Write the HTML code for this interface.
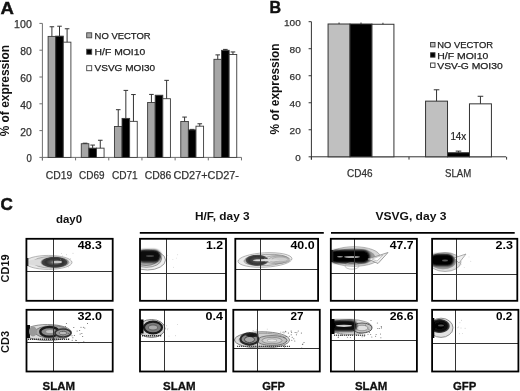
<!DOCTYPE html>
<html><head><meta charset="utf-8"><style>
html,body{margin:0;padding:0;background:#fff;width:520px;height:391px;overflow:hidden}
svg{display:block;font-family:"Liberation Sans", sans-serif;will-change:transform}
</style></head><body>
<svg width="520" height="391" viewBox="0 0 520 391">
<defs><filter id="bl2" x="-30%" y="-50%" width="160%" height="200%"><feGaussianBlur stdDeviation="1.1"/></filter><filter id="bl" x="-20%" y="-20%" width="140%" height="140%"><feGaussianBlur stdDeviation="0.55"/></filter></defs>
<rect width="520" height="391" fill="#fff"/>
<text x="0.6" y="14.2" font-size="16.2" font-weight="bold" text-anchor="start" fill="#111" textLength="13.4" lengthAdjust="spacingAndGlyphs" stroke="#111" stroke-width="0.4">A</text><line x1="42.4" y1="23.400000000000006" x2="42.4" y2="160.4" stroke="#707070" stroke-width="1"/><line x1="42.4" y1="157.4" x2="241.5" y2="157.4" stroke="#707070" stroke-width="1"/><line x1="39.4" y1="157.4" x2="42.4" y2="157.4" stroke="#707070" stroke-width="1"/><text x="31.8" y="162.3" font-size="10" font-weight="normal" text-anchor="end" fill="#333" textLength="5.3" lengthAdjust="spacingAndGlyphs" stroke="#333" stroke-width="0.25">0</text><line x1="39.4" y1="130.6" x2="42.4" y2="130.6" stroke="#707070" stroke-width="1"/><text x="31.8" y="135.5" font-size="10" font-weight="normal" text-anchor="end" fill="#333" textLength="11.5" lengthAdjust="spacingAndGlyphs" stroke="#333" stroke-width="0.25">20</text><line x1="39.4" y1="103.80000000000001" x2="42.4" y2="103.80000000000001" stroke="#707070" stroke-width="1"/><text x="31.8" y="108.70000000000002" font-size="10" font-weight="normal" text-anchor="end" fill="#333" textLength="11.5" lengthAdjust="spacingAndGlyphs" stroke="#333" stroke-width="0.25">40</text><line x1="39.4" y1="77.0" x2="42.4" y2="77.0" stroke="#707070" stroke-width="1"/><text x="31.8" y="81.9" font-size="10" font-weight="normal" text-anchor="end" fill="#333" textLength="11.5" lengthAdjust="spacingAndGlyphs" stroke="#333" stroke-width="0.25">60</text><line x1="39.4" y1="50.2" x2="42.4" y2="50.2" stroke="#707070" stroke-width="1"/><text x="31.8" y="55.1" font-size="10" font-weight="normal" text-anchor="end" fill="#333" textLength="11.5" lengthAdjust="spacingAndGlyphs" stroke="#333" stroke-width="0.25">80</text><line x1="39.4" y1="23.400000000000006" x2="42.4" y2="23.400000000000006" stroke="#707070" stroke-width="1"/><text x="31.8" y="28.300000000000004" font-size="10" font-weight="normal" text-anchor="end" fill="#333" textLength="17.7" lengthAdjust="spacingAndGlyphs" stroke="#333" stroke-width="0.25">100</text><line x1="42.4" y1="157.4" x2="42.4" y2="160.4" stroke="#707070" stroke-width="1"/><line x1="75.58" y1="157.4" x2="75.58" y2="160.4" stroke="#707070" stroke-width="1"/><line x1="108.75999999999999" y1="157.4" x2="108.75999999999999" y2="160.4" stroke="#707070" stroke-width="1"/><line x1="141.94" y1="157.4" x2="141.94" y2="160.4" stroke="#707070" stroke-width="1"/><line x1="175.12" y1="157.4" x2="175.12" y2="160.4" stroke="#707070" stroke-width="1"/><line x1="208.3" y1="157.4" x2="208.3" y2="160.4" stroke="#707070" stroke-width="1"/><line x1="241.48" y1="157.4" x2="241.48" y2="160.4" stroke="#707070" stroke-width="1"/><rect x="48.10" y="36.40" width="7.6" height="121.00" fill="#a6a6a6" stroke="#3a3a3a" stroke-width="0.9"/><line x1="51.90" y1="36.40" x2="51.90" y2="26.75" stroke="#333" stroke-width="1"/><line x1="49.60" y1="26.75" x2="54.20" y2="26.75" stroke="#333" stroke-width="1"/><rect x="55.70" y="36.13" width="7.6" height="121.27" fill="#000000" stroke="#3a3a3a" stroke-width="0.9"/><line x1="59.50" y1="36.13" x2="59.50" y2="26.21" stroke="#333" stroke-width="1"/><line x1="57.20" y1="26.21" x2="61.80" y2="26.21" stroke="#333" stroke-width="1"/><rect x="63.30" y="42.16" width="7.6" height="115.24" fill="#ffffff" stroke="#3a3a3a" stroke-width="0.9"/><line x1="67.10" y1="42.16" x2="67.10" y2="28.76" stroke="#333" stroke-width="1"/><line x1="64.80" y1="28.76" x2="69.40" y2="28.76" stroke="#333" stroke-width="1"/><rect x="81.27" y="143.73" width="7.6" height="13.67" fill="#a6a6a6" stroke="#3a3a3a" stroke-width="0.9"/><line x1="85.07" y1="143.73" x2="85.07" y2="143.20" stroke="#333" stroke-width="1"/><line x1="82.77" y1="143.20" x2="87.37" y2="143.20" stroke="#333" stroke-width="1"/><rect x="88.87" y="148.15" width="7.6" height="9.25" fill="#000000" stroke="#3a3a3a" stroke-width="0.9"/><line x1="92.67" y1="148.15" x2="92.67" y2="145.07" stroke="#333" stroke-width="1"/><line x1="90.37" y1="145.07" x2="94.97" y2="145.07" stroke="#333" stroke-width="1"/><rect x="96.47" y="148.15" width="7.6" height="9.25" fill="#ffffff" stroke="#3a3a3a" stroke-width="0.9"/><line x1="100.27" y1="148.15" x2="100.27" y2="140.25" stroke="#333" stroke-width="1"/><line x1="97.97" y1="140.25" x2="102.57" y2="140.25" stroke="#333" stroke-width="1"/><rect x="114.44" y="126.45" width="7.6" height="30.95" fill="#a6a6a6" stroke="#3a3a3a" stroke-width="0.9"/><line x1="118.24" y1="126.45" x2="118.24" y2="109.70" stroke="#333" stroke-width="1"/><line x1="115.94" y1="109.70" x2="120.54" y2="109.70" stroke="#333" stroke-width="1"/><rect x="122.04" y="118.41" width="7.6" height="38.99" fill="#000000" stroke="#3a3a3a" stroke-width="0.9"/><line x1="125.84" y1="118.41" x2="125.84" y2="90.40" stroke="#333" stroke-width="1"/><line x1="123.54" y1="90.40" x2="128.14" y2="90.40" stroke="#333" stroke-width="1"/><rect x="129.64" y="121.35" width="7.6" height="36.05" fill="#ffffff" stroke="#3a3a3a" stroke-width="0.9"/><line x1="133.44" y1="121.35" x2="133.44" y2="94.55" stroke="#333" stroke-width="1"/><line x1="131.14" y1="94.55" x2="135.74" y2="94.55" stroke="#333" stroke-width="1"/><rect x="147.61" y="102.46" width="7.6" height="54.94" fill="#a6a6a6" stroke="#3a3a3a" stroke-width="0.9"/><line x1="151.41" y1="102.46" x2="151.41" y2="94.42" stroke="#333" stroke-width="1"/><line x1="149.11" y1="94.42" x2="153.71" y2="94.42" stroke="#333" stroke-width="1"/><rect x="155.21" y="95.22" width="7.6" height="62.18" fill="#000000" stroke="#3a3a3a" stroke-width="0.9"/><rect x="162.81" y="98.71" width="7.6" height="58.69" fill="#ffffff" stroke="#3a3a3a" stroke-width="0.9"/><line x1="166.61" y1="98.71" x2="166.61" y2="80.35" stroke="#333" stroke-width="1"/><line x1="164.31" y1="80.35" x2="168.91" y2="80.35" stroke="#333" stroke-width="1"/><rect x="180.78" y="121.49" width="7.6" height="35.91" fill="#a6a6a6" stroke="#3a3a3a" stroke-width="0.9"/><line x1="184.58" y1="121.49" x2="184.58" y2="117.07" stroke="#333" stroke-width="1"/><line x1="182.28" y1="117.07" x2="186.88" y2="117.07" stroke="#333" stroke-width="1"/><rect x="188.38" y="129.93" width="7.6" height="27.47" fill="#000000" stroke="#3a3a3a" stroke-width="0.9"/><line x1="192.18" y1="129.93" x2="192.18" y2="129.39" stroke="#333" stroke-width="1"/><line x1="189.88" y1="129.39" x2="194.48" y2="129.39" stroke="#333" stroke-width="1"/><rect x="195.98" y="126.18" width="7.6" height="31.22" fill="#ffffff" stroke="#3a3a3a" stroke-width="0.9"/><line x1="199.78" y1="126.18" x2="199.78" y2="123.77" stroke="#333" stroke-width="1"/><line x1="197.48" y1="123.77" x2="202.08" y2="123.77" stroke="#333" stroke-width="1"/><rect x="213.95" y="59.31" width="7.6" height="98.09" fill="#a6a6a6" stroke="#3a3a3a" stroke-width="0.9"/><line x1="217.75" y1="59.31" x2="217.75" y2="54.89" stroke="#333" stroke-width="1"/><line x1="215.45" y1="54.89" x2="220.05" y2="54.89" stroke="#333" stroke-width="1"/><rect x="221.55" y="50.33" width="7.6" height="107.07" fill="#000000" stroke="#3a3a3a" stroke-width="0.9"/><line x1="225.35" y1="50.33" x2="225.35" y2="49.40" stroke="#333" stroke-width="1"/><line x1="223.05" y1="49.40" x2="227.65" y2="49.40" stroke="#333" stroke-width="1"/><rect x="229.15" y="54.49" width="7.6" height="102.91" fill="#ffffff" stroke="#3a3a3a" stroke-width="0.9"/><line x1="232.95" y1="54.49" x2="232.95" y2="51.94" stroke="#333" stroke-width="1"/><line x1="230.65" y1="51.94" x2="235.25" y2="51.94" stroke="#333" stroke-width="1"/><rect x="86.7" y="32.80" width="5" height="5" fill="#a6a6a6" stroke="#444" stroke-width="0.9"/><text x="94.6" y="38.5" font-size="9.6" font-weight="normal" text-anchor="start" fill="#222" textLength="56" lengthAdjust="spacingAndGlyphs" stroke="#222" stroke-width="0.25">NO VECTOR</text><rect x="86.7" y="49.25" width="5" height="5" fill="#000000" stroke="#444" stroke-width="0.9"/><text x="94.6" y="54.949999999999996" font-size="9.6" font-weight="normal" text-anchor="start" fill="#222" textLength="50.6" lengthAdjust="spacingAndGlyphs" stroke="#222" stroke-width="0.25">H/F MOI10</text><rect x="86.7" y="65.70" width="5" height="5" fill="#ffffff" stroke="#444" stroke-width="0.9"/><text x="94.6" y="71.39999999999999" font-size="9.6" font-weight="normal" text-anchor="start" fill="#222" textLength="60.6" lengthAdjust="spacingAndGlyphs" stroke="#222" stroke-width="0.25">VSVG MOI30</text><text x="45.7" y="178.7" font-size="10.7" font-weight="normal" text-anchor="start" fill="#333" textLength="26.5" lengthAdjust="spacingAndGlyphs" stroke="#333" stroke-width="0.25">CD19</text><text x="79.1" y="178.7" font-size="10.7" font-weight="normal" text-anchor="start" fill="#333" textLength="25.4" lengthAdjust="spacingAndGlyphs" stroke="#333" stroke-width="0.25">CD69</text><text x="111.9" y="178.7" font-size="10.7" font-weight="normal" text-anchor="start" fill="#333" textLength="25.8" lengthAdjust="spacingAndGlyphs" stroke="#333" stroke-width="0.25">CD71</text><text x="144.7" y="178.7" font-size="10.7" font-weight="normal" text-anchor="start" fill="#333" textLength="26.6" lengthAdjust="spacingAndGlyphs" stroke="#333" stroke-width="0.25">CD86</text><text x="173.4" y="178.7" font-size="10.7" font-weight="normal" text-anchor="start" fill="#333" textLength="65.6" lengthAdjust="spacingAndGlyphs" stroke="#333" stroke-width="0.25">CD27+CD27-</text><text transform="translate(9.1,90.6) rotate(-90)" x="0" y="0" font-size="12.5" font-weight="bold" text-anchor="middle" fill="#111" textLength="91.5" lengthAdjust="spacingAndGlyphs">% of expression</text><text x="269.4" y="12.9" font-size="15.6" font-weight="bold" text-anchor="start" fill="#111" textLength="11.6" lengthAdjust="spacingAndGlyphs" stroke="#111" stroke-width="0.4">B</text><line x1="311.4" y1="21.700000000000017" x2="311.4" y2="159.60000000000002" stroke="#333" stroke-width="1"/><line x1="311.4" y1="156.8" x2="506" y2="156.8" stroke="#333" stroke-width="1"/><line x1="308.59999999999997" y1="156.80" x2="311.4" y2="156.80" stroke="#333" stroke-width="1"/><text x="300.8" y="161.10000000000002" font-size="9.6" font-weight="normal" text-anchor="end" fill="#333" textLength="5.5" lengthAdjust="spacingAndGlyphs" stroke="#333" stroke-width="0.25">0</text><line x1="308.59999999999997" y1="129.78" x2="311.4" y2="129.78" stroke="#333" stroke-width="1"/><text x="300.8" y="134.08" font-size="9.6" font-weight="normal" text-anchor="end" fill="#333" textLength="11.2" lengthAdjust="spacingAndGlyphs" stroke="#333" stroke-width="0.25">20</text><line x1="308.59999999999997" y1="102.76" x2="311.4" y2="102.76" stroke="#333" stroke-width="1"/><text x="300.8" y="107.06000000000002" font-size="9.6" font-weight="normal" text-anchor="end" fill="#333" textLength="11.2" lengthAdjust="spacingAndGlyphs" stroke="#333" stroke-width="0.25">40</text><line x1="308.59999999999997" y1="75.74" x2="311.4" y2="75.74" stroke="#333" stroke-width="1"/><text x="300.8" y="80.04" font-size="9.6" font-weight="normal" text-anchor="end" fill="#333" textLength="11.2" lengthAdjust="spacingAndGlyphs" stroke="#333" stroke-width="0.25">60</text><line x1="308.59999999999997" y1="48.72" x2="311.4" y2="48.72" stroke="#333" stroke-width="1"/><text x="300.8" y="53.02000000000001" font-size="9.6" font-weight="normal" text-anchor="end" fill="#333" textLength="11.2" lengthAdjust="spacingAndGlyphs" stroke="#333" stroke-width="0.25">80</text><line x1="308.59999999999997" y1="21.70" x2="311.4" y2="21.70" stroke="#333" stroke-width="1"/><text x="300.8" y="26.000000000000018" font-size="9.6" font-weight="normal" text-anchor="end" fill="#333" textLength="16.8" lengthAdjust="spacingAndGlyphs" stroke="#333" stroke-width="0.25">100</text><line x1="311.40" y1="156.8" x2="311.40" y2="159.60000000000002" stroke="#333" stroke-width="1"/><line x1="409.00" y1="156.8" x2="409.00" y2="159.60000000000002" stroke="#333" stroke-width="1"/><line x1="506.60" y1="156.8" x2="506.60" y2="159.60000000000002" stroke="#333" stroke-width="1"/><rect x="328.07" y="24.00" width="21.95" height="132.80" fill="#c0c0c0" stroke="#333" stroke-width="1"/><line x1="339.05" y1="24.00" x2="339.05" y2="22.51" stroke="#333" stroke-width="1"/><rect x="350.02" y="24.00" width="21.95" height="132.80" fill="#000000" stroke="#333" stroke-width="1"/><line x1="361.00" y1="24.00" x2="361.00" y2="22.51" stroke="#333" stroke-width="1"/><rect x="371.97" y="24.27" width="21.95" height="132.53" fill="#ffffff" stroke="#333" stroke-width="1"/><line x1="382.95" y1="24.27" x2="382.95" y2="22.78" stroke="#333" stroke-width="1"/><rect x="425.57" y="101.14" width="21.95" height="55.66" fill="#c0c0c0" stroke="#333" stroke-width="1"/><line x1="436.55" y1="101.14" x2="436.55" y2="89.79" stroke="#333" stroke-width="1"/><line x1="433.75" y1="89.79" x2="439.35" y2="89.79" stroke="#333" stroke-width="1"/><rect x="447.52" y="152.75" width="21.95" height="4.05" fill="#000000" stroke="#333" stroke-width="1"/><line x1="458.50" y1="152.75" x2="458.50" y2="151.13" stroke="#333" stroke-width="1"/><line x1="455.70" y1="151.13" x2="461.30" y2="151.13" stroke="#333" stroke-width="1"/><rect x="469.47" y="103.84" width="21.95" height="52.96" fill="#ffffff" stroke="#333" stroke-width="1"/><line x1="480.45" y1="103.84" x2="480.45" y2="96.28" stroke="#333" stroke-width="1"/><line x1="477.65" y1="96.28" x2="483.25" y2="96.28" stroke="#333" stroke-width="1"/><rect x="430.6" y="42.50" width="4.4" height="4.4" fill="#c0c0c0" stroke="#333" stroke-width="0.9"/><text x="437.3" y="48.4" font-size="9.6" font-weight="normal" text-anchor="start" fill="#222" textLength="55.7" lengthAdjust="spacingAndGlyphs" stroke="#222" stroke-width="0.25">NO VECTOR</text><rect x="430.6" y="52.75" width="4.4" height="4.4" fill="#000000" stroke="#333" stroke-width="0.9"/><text x="437.3" y="58.65" font-size="9.6" font-weight="normal" text-anchor="start" fill="#222" textLength="51.0" lengthAdjust="spacingAndGlyphs" stroke="#222" stroke-width="0.25">H/F MOI10</text><rect x="430.6" y="63.00" width="4.4" height="4.4" fill="#ffffff" stroke="#333" stroke-width="0.9"/><text x="437.3" y="68.9" font-size="9.6" font-weight="normal" text-anchor="start" fill="#222" textLength="65.4" lengthAdjust="spacingAndGlyphs" stroke="#222" stroke-width="0.25">VSV-G MOI30</text><text x="347" y="177.2" font-size="10.2" font-weight="normal" text-anchor="start" fill="#333" textLength="25.5" lengthAdjust="spacingAndGlyphs" stroke="#333" stroke-width="0.25">CD46</text><text x="445" y="177.2" font-size="10.2" font-weight="normal" text-anchor="start" fill="#333" textLength="26.2" lengthAdjust="spacingAndGlyphs" stroke="#333" stroke-width="0.25">SLAM</text><text x="450.4" y="139.8" font-size="10.5" font-weight="normal" text-anchor="start" fill="#222" textLength="15.9" lengthAdjust="spacingAndGlyphs" stroke="#222" stroke-width="0.2">14x</text><text transform="translate(278.5,89) rotate(-90)" x="0" y="0" font-size="12.5" font-weight="bold" text-anchor="middle" fill="#111" textLength="91" lengthAdjust="spacingAndGlyphs">% of expression</text><text x="0.4" y="210.2" font-size="16.3" font-weight="bold" text-anchor="start" fill="#111" textLength="12.3" lengthAdjust="spacingAndGlyphs" stroke="#111" stroke-width="0.5">C</text><text x="56" y="223.2" font-size="11.5" font-weight="bold" text-anchor="start" fill="#111" textLength="26.1" lengthAdjust="spacingAndGlyphs">day0</text><text x="195" y="220" font-size="11.5" font-weight="bold" text-anchor="start" fill="#111" textLength="54.6" lengthAdjust="spacingAndGlyphs">H/F, day 3</text><text x="375.4" y="219.8" font-size="11.5" font-weight="bold" text-anchor="start" fill="#111" textLength="71.1" lengthAdjust="spacingAndGlyphs">VSVG, day 3</text><line x1="139.8" y1="232.8" x2="323.8" y2="232.8" stroke="#000" stroke-width="1.7"/><line x1="331" y1="232.8" x2="514.7" y2="232.8" stroke="#000" stroke-width="1.7"/><text transform="translate(8.7,268.4) rotate(-90)" font-size="11" font-weight="bold" text-anchor="middle" fill="#111" textLength="28" lengthAdjust="spacingAndGlyphs">CD19</text><text transform="translate(9.0,342.0) rotate(-90)" font-size="11" font-weight="bold" text-anchor="middle" fill="#111" textLength="22" lengthAdjust="spacingAndGlyphs">CD3</text><text x="42.6" y="389.5" font-size="11.5" font-weight="bold" text-anchor="start" fill="#111" textLength="32.4" lengthAdjust="spacingAndGlyphs" stroke="#111" stroke-width="0.3">SLAM</text><text x="163" y="389.5" font-size="11.5" font-weight="bold" text-anchor="start" fill="#111" textLength="32.6" lengthAdjust="spacingAndGlyphs" stroke="#111" stroke-width="0.3">SLAM</text><text x="262.2" y="389.5" font-size="11.5" font-weight="bold" text-anchor="start" fill="#111" textLength="22.8" lengthAdjust="spacingAndGlyphs" stroke="#111" stroke-width="0.3">GFP</text><text x="354.9" y="389.5" font-size="11.5" font-weight="bold" text-anchor="start" fill="#111" textLength="32.5" lengthAdjust="spacingAndGlyphs" stroke="#111" stroke-width="0.3">SLAM</text><text x="453" y="389.5" font-size="11.5" font-weight="bold" text-anchor="start" fill="#111" textLength="23.3" lengthAdjust="spacingAndGlyphs" stroke="#111" stroke-width="0.3">GFP</text><clipPath id="cp1"><rect x="26.4" y="238.8" width="86.30000000000001" height="62.0"/></clipPath><g clip-path="url(#cp1)"><g filter="url(#bl)"><ellipse cx="48.5" cy="262.4" rx="23.5" ry="7.0" fill="#e8e8e8" stroke="#8a8a8a" stroke-width="0.6" opacity="1"/><ellipse cx="51" cy="262.3" rx="18" ry="5.7" fill="#d4d4d4" stroke="#777" stroke-width="0.5" opacity="1"/><ellipse cx="36" cy="262.5" rx="9" ry="3" fill="#dcdcdc" stroke="none" stroke-width="0" opacity="1"/><radialGradient id="g1"><stop offset="0" stop-color="#aaa" stop-opacity="1"/><stop offset="0.3" stop-color="#555" stop-opacity="1"/><stop offset="0.6" stop-color="#303030" stop-opacity="1"/><stop offset="0.85" stop-color="#444" stop-opacity="1"/><stop offset="1" stop-color="#777" stop-opacity="0"/></radialGradient><ellipse cx="54.5" cy="262.3" rx="14.5" ry="5.9" fill="url(#g1)"/><ellipse cx="57.5" cy="262" rx="4.5" ry="1.2" fill="#c4c4c4" stroke="none" stroke-width="0" opacity="1"/><rect x="26.4" y="258" width="2" height="8" fill="#333"/><circle cx="66.5" cy="254.7" r="0.45" fill="#aaa"/><circle cx="73.0" cy="253.3" r="0.45" fill="#aaa"/><circle cx="70.7" cy="258.6" r="0.45" fill="#aaa"/><circle cx="61.2" cy="261.1" r="0.45" fill="#aaa"/><circle cx="60.7" cy="259.8" r="0.45" fill="#aaa"/><circle cx="61.4" cy="253.6" r="0.45" fill="#aaa"/><circle cx="68.5" cy="266.9" r="0.45" fill="#aaa"/><circle cx="62.5" cy="256.0" r="0.45" fill="#aaa"/></g></g><line x1="53.5" y1="238.8" x2="53.5" y2="300.8" stroke="#333" stroke-width="1.05"/><line x1="26.4" y1="271.5" x2="112.7" y2="271.5" stroke="#333" stroke-width="1.05"/><rect x="26.4" y="238.8" width="86.30" height="62.00" fill="none" stroke="#000" stroke-width="1.8"/><text x="77.7" y="249.2" font-size="11.5" font-weight="bold" text-anchor="start" fill="#000" textLength="24.1" lengthAdjust="spacingAndGlyphs">48.3</text><clipPath id="cp2"><rect x="140.0" y="238.8" width="86.0" height="62.0"/></clipPath><g clip-path="url(#cp2)"><g filter="url(#bl)"><ellipse cx="147.5" cy="260" rx="18" ry="10" fill="#eeeeee" stroke="#777" stroke-width="0.7" opacity="1"/><ellipse cx="146.5" cy="259" rx="15" ry="8.3" fill="#d8d8d8" stroke="#666" stroke-width="0.6" opacity="1"/><ellipse cx="146" cy="258.5" rx="12.5" ry="7" fill="#b0b0b0" stroke="#555" stroke-width="0.6" opacity="1"/><rect x="137" y="249.8" width="24" height="12.6" rx="6.3" fill="#080808" filter="url(#bl2)"/><ellipse cx="150" cy="256" rx="4" ry="1" fill="#444" stroke="none" stroke-width="0" opacity="1"/><circle cx="173.5" cy="267.3" r="0.45" fill="#bbb"/><circle cx="172.9" cy="259.6" r="0.45" fill="#bbb"/><circle cx="177.7" cy="254.7" r="0.45" fill="#bbb"/><circle cx="176.3" cy="258.1" r="0.45" fill="#bbb"/><circle cx="167.7" cy="255.6" r="0.45" fill="#bbb"/></g></g><line x1="166.5" y1="238.8" x2="166.5" y2="300.8" stroke="#333" stroke-width="1.05"/><line x1="140.0" y1="273.5" x2="226.0" y2="273.5" stroke="#333" stroke-width="1.05"/><rect x="140.0" y="238.8" width="86.00" height="62.00" fill="none" stroke="#000" stroke-width="1.8"/><text x="206.0" y="249.2" font-size="11.5" font-weight="bold" text-anchor="start" fill="#000" textLength="17.0" lengthAdjust="spacingAndGlyphs">1.2</text><clipPath id="cp3"><rect x="235.3" y="238.8" width="82.80000000000001" height="62.0"/></clipPath><g clip-path="url(#cp3)"><g filter="url(#bl)"><ellipse cx="265" cy="260" rx="27" ry="7.2" fill="#ececec" stroke="#8a8a8a" stroke-width="0.6" transform="rotate(-3 265 260)" opacity="1"/><ellipse cx="266" cy="260" rx="22" ry="5.6" fill="#dadada" stroke="#777" stroke-width="0.6" transform="rotate(-3 266 260)" opacity="1"/><ellipse cx="279" cy="259.5" rx="10" ry="3.5" fill="#cdcdcd" stroke="#888" stroke-width="0.5" opacity="1"/><radialGradient id="g2"><stop offset="0" stop-color="#999" stop-opacity="1"/><stop offset="0.3" stop-color="#4a4a4a" stop-opacity="1"/><stop offset="0.65" stop-color="#333" stop-opacity="1"/><stop offset="0.85" stop-color="#4a4a4a" stop-opacity="1"/><stop offset="1" stop-color="#777" stop-opacity="0"/></radialGradient><ellipse cx="257" cy="260.3" rx="12.5" ry="6.0" fill="url(#g2)"/><ellipse cx="277" cy="259.6" rx="13" ry="4.0" fill="none" stroke="#888" stroke-width="0.6" opacity="1"/><ellipse cx="280" cy="259.4" rx="8" ry="2.4" fill="none" stroke="#999" stroke-width="0.6" opacity="1"/><ellipse cx="266" cy="260.2" rx="13" ry="1.1" fill="#dcdcdc" stroke="none" stroke-width="0" opacity="1"/></g></g><line x1="260.5" y1="238.8" x2="260.5" y2="300.8" stroke="#333" stroke-width="1.05"/><line x1="235.3" y1="269.5" x2="318.1" y2="269.5" stroke="#333" stroke-width="1.05"/><rect x="235.3" y="238.8" width="82.80" height="62.00" fill="none" stroke="#000" stroke-width="1.8"/><text x="290.4" y="249.2" font-size="11.5" font-weight="bold" text-anchor="start" fill="#000" textLength="24.2" lengthAdjust="spacingAndGlyphs">40.0</text><clipPath id="cp4"><rect x="330.8" y="238.8" width="86.09999999999997" height="62.0"/></clipPath><g clip-path="url(#cp4)"><g filter="url(#bl)"><ellipse cx="354" cy="256.5" rx="26" ry="9.8" fill="#d8d8d8" stroke="#888" stroke-width="0.6" opacity="1"/><ellipse cx="353" cy="256.5" rx="22" ry="8" fill="#999" stroke="none" stroke-width="0" opacity="1"/><rect x="329" y="250" width="41" height="13" rx="6.5" fill="#050505" filter="url(#bl2)"/><ellipse cx="352" cy="257" rx="8" ry="0.9" fill="#aaa" stroke="none" stroke-width="0" opacity="1"/><ellipse cx="340" cy="256.8" rx="3" ry="0.8" fill="#999" stroke="none" stroke-width="0" opacity="1"/><path d="M368,259 L388,252.5 L378,263.5 Z" fill="#eee" stroke="#888" stroke-width="0.8"/><path d="M372,259 L383,255 L377,261 Z" fill="#fff" stroke="#aaa" stroke-width="0.6"/><ellipse cx="352" cy="266" rx="7" ry="3.2" fill="none" stroke="#aaa" stroke-width="0.7" opacity="1"/><rect x="330.8" y="250" width="2.5" height="12" fill="#222"/></g></g><line x1="354.5" y1="238.8" x2="354.5" y2="300.8" stroke="#333" stroke-width="1.05"/><line x1="330.8" y1="273.5" x2="416.9" y2="273.5" stroke="#333" stroke-width="1.05"/><rect x="330.8" y="238.8" width="86.10" height="62.00" fill="none" stroke="#000" stroke-width="1.8"/><text x="389.7" y="249.2" font-size="11.5" font-weight="bold" text-anchor="start" fill="#000" textLength="23.8" lengthAdjust="spacingAndGlyphs">47.7</text><clipPath id="cp5"><rect x="432.1" y="238.8" width="85.19999999999993" height="62.0"/></clipPath><g clip-path="url(#cp5)"><g filter="url(#bl)"><ellipse cx="445" cy="262" rx="16" ry="9.5" fill="#dcdcdc" stroke="#888" stroke-width="0.6" opacity="1"/><ellipse cx="443" cy="261.5" rx="13" ry="7.8" fill="#9a9a9a" stroke="none" stroke-width="0" opacity="1"/><path d="M454,258 L466,254 L459,263 Z" fill="#f0f0f0" stroke="#999" stroke-width="0.8"/><rect x="430" y="254" width="24" height="12" rx="6" fill="#050505" filter="url(#bl2)"/><ellipse cx="445" cy="260.5" rx="3" ry="1" fill="#555" stroke="none" stroke-width="0" opacity="1"/><circle cx="464.2" cy="267.4" r="0.45" fill="#bbb"/><circle cx="461.6" cy="264.1" r="0.45" fill="#bbb"/><circle cx="470.8" cy="261.2" r="0.45" fill="#bbb"/><circle cx="469.0" cy="256.9" r="0.45" fill="#bbb"/><circle cx="459.2" cy="258.9" r="0.45" fill="#bbb"/></g></g><line x1="456.5" y1="238.8" x2="456.5" y2="300.8" stroke="#333" stroke-width="1.05"/><line x1="432.1" y1="274.5" x2="517.3" y2="274.5" stroke="#333" stroke-width="1.05"/><rect x="432.1" y="238.8" width="85.20" height="62.00" fill="none" stroke="#000" stroke-width="1.8"/><text x="495.6" y="249.2" font-size="11.5" font-weight="bold" text-anchor="start" fill="#000" textLength="17.4" lengthAdjust="spacingAndGlyphs">2.3</text><clipPath id="cp6"><rect x="26.5" y="309.8" width="86.2" height="61.69999999999999"/></clipPath><g clip-path="url(#cp6)"><g filter="url(#bl)"><ellipse cx="47.5" cy="332.5" rx="24" ry="8" fill="#dadada" stroke="#777" stroke-width="0.8" opacity="1"/><ellipse cx="52" cy="332" rx="17" ry="6.3" fill="#aaaaaa" stroke="#555" stroke-width="0.6" opacity="1"/><ellipse cx="49.5" cy="331.8" rx="9.2" ry="4.8" fill="#8a8a8a" stroke="#1e1e1e" stroke-width="2.4" opacity="1"/><ellipse cx="63" cy="333" rx="8" ry="4" fill="#9a9a9a" stroke="#333" stroke-width="1.6" opacity="1"/><ellipse cx="63" cy="333" rx="4" ry="1.8" fill="#bbb" stroke="#666" stroke-width="0.8" opacity="1"/><ellipse cx="50" cy="331.5" rx="4" ry="1.6" fill="#c4c4c4" stroke="none" stroke-width="0" opacity="1"/><rect x="26.5" y="325" width="3.5" height="13" fill="#111"/><ellipse cx="33" cy="331.5" rx="4" ry="5" fill="#999" stroke="none" stroke-width="0" opacity="1"/><line x1="28" y1="339.3" x2="70" y2="339.3" stroke="#333" stroke-width="1.6" stroke-dasharray="1.2,0.8"/><circle cx="79.7" cy="330.4" r="0.5" fill="#555"/><circle cx="70.2" cy="333.9" r="0.5" fill="#555"/><circle cx="73.8" cy="327.6" r="0.5" fill="#555"/><circle cx="82.7" cy="336.4" r="0.5" fill="#555"/><circle cx="68.3" cy="333.6" r="0.5" fill="#555"/><circle cx="75.7" cy="340.3" r="0.5" fill="#555"/><circle cx="81.0" cy="327.3" r="0.5" fill="#555"/><circle cx="87.5" cy="323.6" r="0.5" fill="#555"/><circle cx="72.9" cy="337.7" r="0.5" fill="#555"/><circle cx="66.0" cy="331.8" r="0.5" fill="#555"/><circle cx="63.0" cy="335.7" r="0.5" fill="#555"/><circle cx="81.9" cy="333.6" r="0.5" fill="#555"/><circle cx="84.8" cy="327.9" r="0.5" fill="#555"/><circle cx="80.1" cy="334.1" r="0.5" fill="#555"/><circle cx="77.1" cy="331.0" r="0.5" fill="#555"/><circle cx="83.8" cy="341.8" r="0.5" fill="#555"/><circle cx="74.3" cy="335.6" r="0.5" fill="#555"/><circle cx="63.6" cy="336.4" r="0.5" fill="#555"/><circle cx="78.8" cy="342.8" r="0.5" fill="#555"/><circle cx="83.4" cy="327.3" r="0.5" fill="#555"/><circle cx="72.0" cy="335.7" r="0.5" fill="#555"/><circle cx="62.6" cy="331.2" r="0.5" fill="#555"/><circle cx="66.4" cy="323.6" r="0.5" fill="#555"/><circle cx="63.5" cy="337.9" r="0.5" fill="#555"/><circle cx="65.4" cy="326.4" r="0.5" fill="#555"/><circle cx="72.2" cy="340.2" r="0.5" fill="#555"/><circle cx="64.1" cy="330.9" r="0.5" fill="#555"/><circle cx="76.3" cy="340.4" r="0.5" fill="#555"/></g></g><line x1="53.5" y1="309.8" x2="53.5" y2="371.5" stroke="#333" stroke-width="1.05"/><line x1="26.5" y1="342.5" x2="112.7" y2="342.5" stroke="#333" stroke-width="1.05"/><rect x="26.5" y="309.8" width="86.20" height="61.70" fill="none" stroke="#000" stroke-width="1.8"/><text x="77.5" y="319.8" font-size="11.5" font-weight="bold" text-anchor="start" fill="#000" textLength="24.5" lengthAdjust="spacingAndGlyphs">32.0</text><clipPath id="cp7"><rect x="140.0" y="309.8" width="86.0" height="61.69999999999999"/></clipPath><g clip-path="url(#cp7)"><g filter="url(#bl)"><ellipse cx="151.5" cy="328.5" rx="13.5" ry="9" fill="#d4d4d4" stroke="#666" stroke-width="0.8" opacity="1"/><ellipse cx="153" cy="327.5" rx="9" ry="5.8" fill="#7a7a7a" stroke="#1a1a1a" stroke-width="2.2" opacity="1"/><ellipse cx="153" cy="327.5" rx="4.5" ry="2.5" fill="#aaa" stroke="#555" stroke-width="0.8" opacity="1"/><rect x="140" y="319.5" width="3.5" height="14" fill="#000"/><line x1="142" y1="335.7" x2="162" y2="335.7" stroke="#333" stroke-width="1.6" stroke-dasharray="1.2,0.8"/><circle cx="175.5" cy="335.8" r="0.45" fill="#aaa"/><circle cx="167.9" cy="328.6" r="0.45" fill="#aaa"/><circle cx="169.0" cy="336.1" r="0.45" fill="#aaa"/><circle cx="177.4" cy="324.4" r="0.45" fill="#aaa"/><circle cx="166.5" cy="325.7" r="0.45" fill="#aaa"/><circle cx="167.3" cy="329.8" r="0.45" fill="#aaa"/></g></g><line x1="164.5" y1="309.8" x2="164.5" y2="371.5" stroke="#333" stroke-width="1.05"/><line x1="140.0" y1="341.5" x2="226.0" y2="341.5" stroke="#333" stroke-width="1.05"/><rect x="140.0" y="309.8" width="86.00" height="61.70" fill="none" stroke="#000" stroke-width="1.8"/><text x="205.6" y="319.8" font-size="11.5" font-weight="bold" text-anchor="start" fill="#000" textLength="17.4" lengthAdjust="spacingAndGlyphs">0.4</text><clipPath id="cp8"><rect x="233.3" y="309.8" width="86.5" height="61.69999999999999"/></clipPath><g clip-path="url(#cp8)"><g filter="url(#bl)"><ellipse cx="262" cy="340" rx="27.5" ry="8.2" fill="#dcdcdc" stroke="#666" stroke-width="0.8" opacity="1"/><ellipse cx="263" cy="340" rx="24" ry="6.7" fill="#d0d0d0" stroke="#888" stroke-width="0.7" opacity="1"/><ellipse cx="272" cy="340.5" rx="15" ry="4.9" fill="#c0c0c0" stroke="#666" stroke-width="0.8" opacity="1"/><ellipse cx="272" cy="340.5" rx="10" ry="3.2" fill="#d0d0d0" stroke="#777" stroke-width="0.7" opacity="1"/><ellipse cx="272" cy="340.5" rx="5" ry="1.6" fill="#e8e8e8" stroke="#888" stroke-width="0.6" opacity="1"/><ellipse cx="249.5" cy="339" rx="9" ry="5.6" fill="#888" stroke="#262626" stroke-width="2.1" opacity="1"/><ellipse cx="249.5" cy="339.5" rx="5" ry="3" fill="#a8a8a8" stroke="#444" stroke-width="1" opacity="1"/><radialGradient id="g3"><stop offset="0" stop-color="#111" stop-opacity="1"/><stop offset="0.7" stop-color="#222" stop-opacity="1"/><stop offset="1" stop-color="#444" stop-opacity="0"/></radialGradient><ellipse cx="252" cy="335" rx="7.5" ry="2.6" fill="url(#g3)"/><line x1="237" y1="346.4" x2="290" y2="346.4" stroke="#444" stroke-width="1.4" stroke-dasharray="1.2,0.8"/><circle cx="296.4" cy="334.7" r="0.5" fill="#555"/><circle cx="284.1" cy="337.5" r="0.5" fill="#555"/><circle cx="291.8" cy="340.2" r="0.5" fill="#555"/><circle cx="304.0" cy="342.4" r="0.5" fill="#555"/><circle cx="294.8" cy="341.1" r="0.5" fill="#555"/><circle cx="298.2" cy="331.0" r="0.5" fill="#555"/><circle cx="302.9" cy="344.0" r="0.5" fill="#555"/><circle cx="302.4" cy="344.4" r="0.5" fill="#555"/><circle cx="292.2" cy="337.2" r="0.5" fill="#555"/><circle cx="286.2" cy="341.4" r="0.5" fill="#555"/><circle cx="285.3" cy="331.2" r="0.5" fill="#555"/><circle cx="288.4" cy="332.9" r="0.5" fill="#555"/><circle cx="291.1" cy="330.9" r="0.5" fill="#555"/><circle cx="284.0" cy="332.7" r="0.5" fill="#555"/><circle cx="286.1" cy="336.5" r="0.5" fill="#555"/><circle cx="284.5" cy="345.7" r="0.5" fill="#555"/><circle cx="296.9" cy="332.7" r="0.5" fill="#555"/><circle cx="289.3" cy="336.3" r="0.5" fill="#555"/><circle cx="291.6" cy="332.2" r="0.5" fill="#555"/><circle cx="301.8" cy="347.9" r="0.5" fill="#555"/><circle cx="293.8" cy="338.7" r="0.5" fill="#555"/><circle cx="285.8" cy="331.8" r="0.5" fill="#555"/><circle cx="291.2" cy="334.8" r="0.5" fill="#555"/><circle cx="301.4" cy="332.9" r="0.5" fill="#555"/><circle cx="284.5" cy="347.1" r="0.5" fill="#555"/><circle cx="295.1" cy="332.6" r="0.5" fill="#555"/><circle cx="267.2" cy="329.1" r="0.45" fill="#999"/><circle cx="266.4" cy="332.9" r="0.45" fill="#999"/><circle cx="283.2" cy="331.8" r="0.45" fill="#999"/><circle cx="253.1" cy="330.5" r="0.45" fill="#999"/><circle cx="248.4" cy="332.1" r="0.45" fill="#999"/><circle cx="266.6" cy="332.1" r="0.45" fill="#999"/><circle cx="256.5" cy="329.9" r="0.45" fill="#999"/><circle cx="280.6" cy="332.9" r="0.45" fill="#999"/><circle cx="282.6" cy="332.2" r="0.45" fill="#999"/><circle cx="280.9" cy="332.0" r="0.45" fill="#999"/></g></g><line x1="257.5" y1="309.8" x2="257.5" y2="371.5" stroke="#333" stroke-width="1.05"/><line x1="233.3" y1="348.5" x2="319.8" y2="348.5" stroke="#333" stroke-width="1.05"/><rect x="233.3" y="309.8" width="86.50" height="61.70" fill="none" stroke="#000" stroke-width="1.8"/><text x="290.6" y="319.8" font-size="11.5" font-weight="bold" text-anchor="start" fill="#000" textLength="13.0" lengthAdjust="spacingAndGlyphs">27</text><clipPath id="cp9"><rect x="330.9" y="309.8" width="86.0" height="61.69999999999999"/></clipPath><g clip-path="url(#cp9)"><g filter="url(#bl)"><ellipse cx="350" cy="327" rx="22" ry="7.5" fill="#e0e0e0" stroke="#888" stroke-width="0.7" opacity="1"/><ellipse cx="362" cy="328" rx="10" ry="5" fill="#c4c4c4" stroke="#555" stroke-width="1" opacity="1"/><ellipse cx="362" cy="328" rx="6" ry="2.8" fill="#e0e0e0" stroke="#777" stroke-width="0.7" opacity="1"/><rect x="330" y="320" width="27" height="11.5" rx="5.5" fill="#0c0c0c" filter="url(#bl2)"/><ellipse cx="344" cy="325.8" rx="8" ry="1.1" fill="#d0d0d0" stroke="none" stroke-width="0" opacity="1"/><rect x="330.9" y="319" width="3.6" height="15" fill="#000"/><line x1="334" y1="335.3" x2="366" y2="335.3" stroke="#555" stroke-width="1.6" stroke-dasharray="1.2,0.8"/><circle cx="368.9" cy="329.3" r="0.5" fill="#666"/><circle cx="371.0" cy="320.5" r="0.5" fill="#666"/><circle cx="365.5" cy="325.0" r="0.5" fill="#666"/><circle cx="369.4" cy="332.5" r="0.5" fill="#666"/><circle cx="381.3" cy="328.1" r="0.5" fill="#666"/><circle cx="380.9" cy="337.8" r="0.5" fill="#666"/><circle cx="381.2" cy="326.6" r="0.5" fill="#666"/><circle cx="368.7" cy="324.1" r="0.5" fill="#666"/><circle cx="368.3" cy="323.7" r="0.5" fill="#666"/><circle cx="375.6" cy="336.2" r="0.5" fill="#666"/><circle cx="379.3" cy="328.6" r="0.5" fill="#666"/><circle cx="376.1" cy="334.4" r="0.5" fill="#666"/><circle cx="366.4" cy="331.9" r="0.5" fill="#666"/><circle cx="380.5" cy="334.1" r="0.5" fill="#666"/><circle cx="377.8" cy="328.6" r="0.5" fill="#666"/><circle cx="368.0" cy="334.2" r="0.5" fill="#666"/><circle cx="370.7" cy="334.4" r="0.5" fill="#666"/><circle cx="381.5" cy="327.1" r="0.5" fill="#666"/><circle cx="371.8" cy="337.0" r="0.5" fill="#666"/><circle cx="377.3" cy="323.1" r="0.5" fill="#666"/><circle cx="337.9" cy="332.9" r="0.5" fill="#777"/><circle cx="362.1" cy="336.8" r="0.5" fill="#777"/><circle cx="338.5" cy="337.0" r="0.5" fill="#777"/><circle cx="364.4" cy="335.9" r="0.5" fill="#777"/><circle cx="344.9" cy="335.3" r="0.5" fill="#777"/><circle cx="338.1" cy="332.1" r="0.5" fill="#777"/><circle cx="364.1" cy="335.9" r="0.5" fill="#777"/><circle cx="350.3" cy="337.6" r="0.5" fill="#777"/><circle cx="347.4" cy="337.2" r="0.5" fill="#777"/><circle cx="359.6" cy="333.3" r="0.5" fill="#777"/><circle cx="341.8" cy="333.8" r="0.5" fill="#777"/><circle cx="341.5" cy="335.5" r="0.5" fill="#777"/><circle cx="342.0" cy="334.5" r="0.5" fill="#777"/><circle cx="338.1" cy="337.5" r="0.5" fill="#777"/></g></g><line x1="354.5" y1="309.8" x2="354.5" y2="371.5" stroke="#333" stroke-width="1.05"/><line x1="330.9" y1="340.5" x2="416.9" y2="340.5" stroke="#333" stroke-width="1.05"/><rect x="330.9" y="309.8" width="86.00" height="61.70" fill="none" stroke="#000" stroke-width="1.8"/><text x="389.8" y="319.8" font-size="11.5" font-weight="bold" text-anchor="start" fill="#000" textLength="23.9" lengthAdjust="spacingAndGlyphs">26.6</text><clipPath id="cp10"><rect x="432.1" y="309.8" width="86.29999999999995" height="61.69999999999999"/></clipPath><g clip-path="url(#cp10)"><g filter="url(#bl)"><ellipse cx="441" cy="327.8" rx="12" ry="9.6" fill="#e2e2e2" stroke="#777" stroke-width="0.8" opacity="1"/><radialGradient id="g4"><stop offset="0" stop-color="#000" stop-opacity="1"/><stop offset="0.7" stop-color="#0a0a0a" stop-opacity="1"/><stop offset="0.88" stop-color="#444" stop-opacity="1"/><stop offset="1" stop-color="#888" stop-opacity="0"/></radialGradient><ellipse cx="439.5" cy="326" rx="11" ry="7.4" fill="url(#g4)"/><ellipse cx="441" cy="325.5" rx="3" ry="1" fill="#555" stroke="none" stroke-width="0" opacity="1"/><rect x="432.1" y="318" width="2.2" height="20" fill="#000"/><circle cx="458.4" cy="326.9" r="0.45" fill="#aaa"/><circle cx="462.5" cy="333.6" r="0.45" fill="#aaa"/><circle cx="459.6" cy="333.8" r="0.45" fill="#aaa"/><circle cx="461.0" cy="328.0" r="0.45" fill="#aaa"/><circle cx="461.4" cy="320.3" r="0.45" fill="#aaa"/><circle cx="459.9" cy="322.7" r="0.45" fill="#aaa"/><circle cx="452.1" cy="332.0" r="0.45" fill="#aaa"/><circle cx="455.1" cy="327.1" r="0.45" fill="#aaa"/><circle cx="465.1" cy="328.3" r="0.45" fill="#aaa"/><circle cx="457.9" cy="327.8" r="0.45" fill="#aaa"/></g></g><line x1="455.5" y1="309.8" x2="455.5" y2="371.5" stroke="#333" stroke-width="1.05"/><line x1="432.1" y1="343.5" x2="518.4" y2="343.5" stroke="#333" stroke-width="1.05"/><rect x="432.1" y="309.8" width="86.30" height="61.70" fill="none" stroke="#000" stroke-width="1.8"/><text x="496.0" y="319.8" font-size="11.5" font-weight="bold" text-anchor="start" fill="#000" textLength="16.3" lengthAdjust="spacingAndGlyphs">0.2</text>
</svg>
</body></html>
